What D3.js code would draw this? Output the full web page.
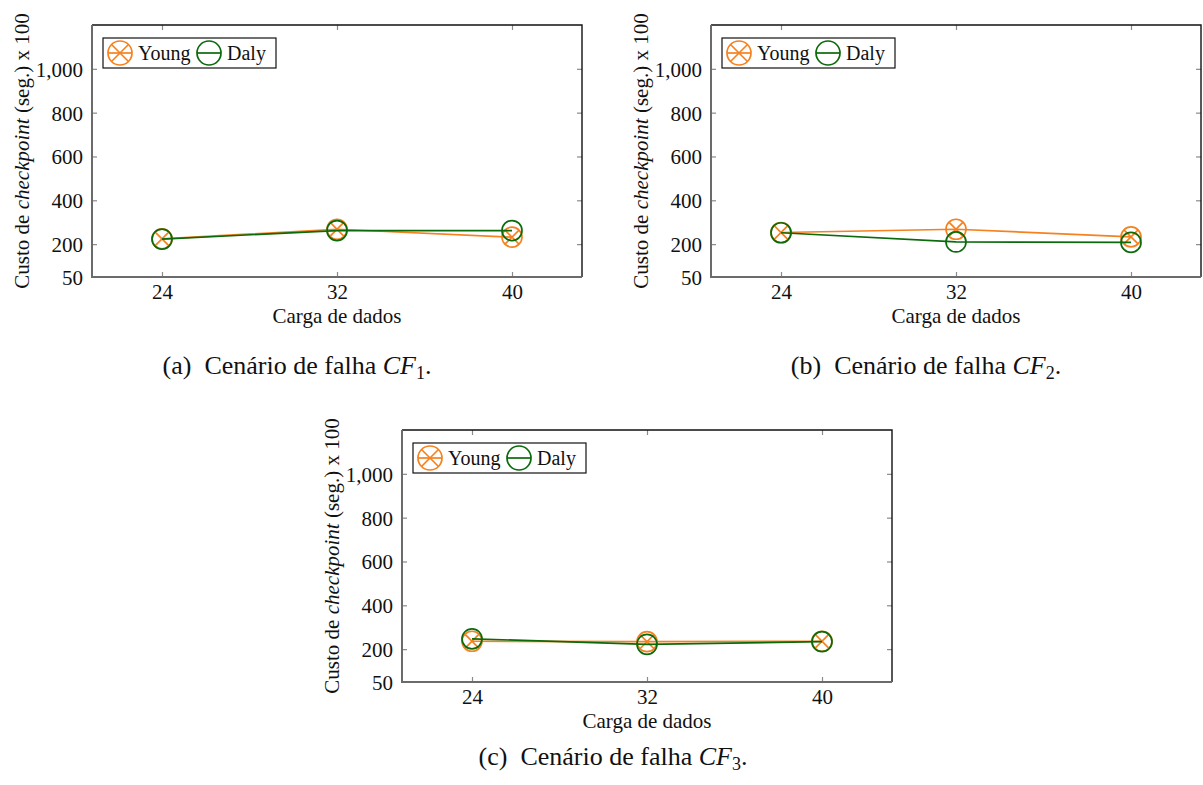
<!DOCTYPE html>
<html>
<head>
<meta charset="utf-8">
<script src="https://cdn.jsdelivr.net/npm/d3@7"></script>
<style>
  html, body { margin: 0; padding: 0; background: #fff; }
  svg, svg text { font-family: "Liberation Serif", "Tinos", "Times New Roman", "DejaVu Serif", serif; }
  svg { display: block; }
</style>
</head>
<body>
<svg id="fig" width="1203" height="785"></svg>
<script>
// Carga de dados (eixo x) e custo de checkpoint (seg. x 100) por cenário de falha
const cargas = [24, 32, 40];
const yTicks = [50, 200, 400, 600, 800, 1000];

const youngCF1 = [224, 268, 232];
const dalyCF1  = [223, 262, 262];
const youngCF2 = [253, 268, 233];
const dalyCF2  = [252, 210, 208];
const youngCF3 = [236, 234, 236];
const dalyCF3  = [247, 222, 234];

const series = ["Young", "Daly"];
const colors = { Young: "#f5821f", Daly: "#0b6a0b" };
const serif = "'Liberation Serif', 'Tinos', 'Times New Roman', 'DejaVu Serif', serif";

const panels = [
  { x0: 92,  y0: 25,  young: youngCF1, daly: dalyCF1, letter: "a", sub: "1", capX: 297, capY: 374 },
  { x0: 711, y0: 25,  young: youngCF2, daly: dalyCF2, letter: "b", sub: "2", capX: 926, capY: 374 },
  { x0: 402, y0: 430, young: youngCF3, daly: dalyCF3, letter: "c", sub: "3", capX: 613, capY: 765 }
];

const W = 490, H = 252;
const svg = d3.select("#fig");

const x = d3.scaleLinear().domain([20.8, 43.2]).range([0, W]);
const y = d3.scaleLinear().domain([50, 1200]).range([H, 0]);

function marker(g, name, cx, cy, r) {
  const c = colors[name];
  g.append("circle").attr("cx", cx).attr("cy", cy).attr("r", r)
    .attr("fill", "none").attr("stroke", c).attr("stroke-width", 1.7);
  if (name === "Young") {
    const d = r * Math.SQRT1_2;
    g.append("path")
      .attr("d", `M${cx - d},${cy - d}L${cx + d},${cy + d}M${cx - d},${cy + d}L${cx + d},${cy - d}`)
      .attr("stroke", c).attr("stroke-width", 1.7).attr("fill", "none");
  }
}

panels.forEach(p => {
  const g = svg.append("g").attr("transform", `translate(${p.x0},${p.y0})`);

  // tick marks on all four sides, pointing inwards
  const tickColor = "#8a8a8a";
  const axB = g.append("g").attr("transform", `translate(0,${H})`)
    .call(d3.axisBottom(x).tickValues(cargas).tickSize(-5).tickPadding(10).tickFormat(d3.format("d")));
  const axT = g.append("g")
    .call(d3.axisTop(x).tickValues(cargas).tickSize(-5).tickFormat(""));
  const axL = g.append("g")
    .call(d3.axisLeft(y).tickValues(yTicks).tickSize(-5).tickPadding(9).tickFormat(d3.format(",")));
  const axR = g.append("g").attr("transform", `translate(${W},0)`)
    .call(d3.axisRight(y).tickValues(yTicks.filter(v => v !== 50)).tickSize(-5).tickFormat(""));
  [axB, axT, axL, axR].forEach(a => {
    a.attr("font-family", serif);
    a.select(".domain").remove();
    a.selectAll(".tick line").attr("stroke", tickColor).attr("stroke-width", 1.2);
    a.selectAll(".tick text").attr("fill", "#111").attr("font-size", 21);
  });
  axB.selectAll(".tick text").attr("dy", "0.57em");
  axL.selectAll(".tick text").attr("dy", "0.35em");
  axL.selectAll(".tick").filter(d => d === 50).select("line").remove();

  // frame: grey left/bottom axis lines, dark top/right
  g.append("path").attr("d", `M0,0L${W},0L${W},${H}`)
    .attr("fill", "none").attr("stroke", "#111").attr("stroke-width", 1.4);
  g.append("path").attr("d", `M0,0L0,${H}L${W},${H}`)
    .attr("fill", "none").attr("stroke", "#6b6b6b").attr("stroke-width", 2);

  // series: line then markers, Young first, Daly drawn over it
  const line = d3.line().x(d => x(d[0])).y(d => y(d[1]));
  series.forEach(name => {
    const vals = name === "Young" ? p.young : p.daly;
    const pts = cargas.map((c, i) => [c, vals[i]]);
    g.append("path").datum(pts).attr("d", line)
      .attr("fill", "none").attr("stroke", colors[name]).attr("stroke-width", 1.7);
    const mg = g.append("g");
    pts.forEach(d => marker(mg, name, x(d[0]), y(d[1]), 10));
  });

  // legend
  const lg = g.append("g").attr("transform", "translate(11,13)");
  lg.append("rect").attr("width", 173).attr("height", 30)
    .attr("fill", "#fff").attr("stroke", "#111").attr("stroke-width", 1.2);
  const entries = [{ name: "Young", mx: 17, tx: 35 }, { name: "Daly", mx: 106, tx: 124 }];
  entries.forEach(e => {
    lg.append("line").attr("x1", e.mx - 12).attr("x2", e.mx + 12).attr("y1", 15).attr("y2", 15)
      .attr("stroke", colors[e.name]).attr("stroke-width", 1.7);
    marker(lg, e.name, e.mx, 15, 12);
    lg.append("text").attr("x", e.tx).attr("y", 22).attr("fill", "#111")
      .attr("font-family", serif).attr("font-size", 20).text(e.name);
  });

  // axis titles
  g.append("text").attr("x", W / 2).attr("y", H + 46).attr("text-anchor", "middle")
    .attr("fill", "#111").attr("font-family", serif).attr("font-size", 21).text("Carga de dados");
  const yl = g.append("text")
    .attr("transform", `translate(-63,${H / 2}) rotate(-90)`)
    .attr("text-anchor", "middle").attr("fill", "#111")
    .attr("font-family", serif).attr("font-size", 21);
  yl.append("tspan").text("Custo de ");
  yl.append("tspan").attr("font-style", "italic").text("checkpoint");
  yl.append("tspan").text(" (seg.) x 100");

  // caption
  const cap = svg.append("text").attr("x", p.capX).attr("y", p.capY)
    .attr("text-anchor", "middle").attr("fill", "#111")
    .attr("font-family", serif).attr("font-size", 26);
  cap.append("tspan").text(`(${p.letter})\u2002Cenário de falha `);
  cap.append("tspan").attr("font-style", "italic").text("CF");
  cap.append("tspan").attr("dy", 5).attr("font-size", 18).text(p.sub);
  cap.append("tspan").attr("dy", -5).text(".");
});
</script>
</body>
</html>
